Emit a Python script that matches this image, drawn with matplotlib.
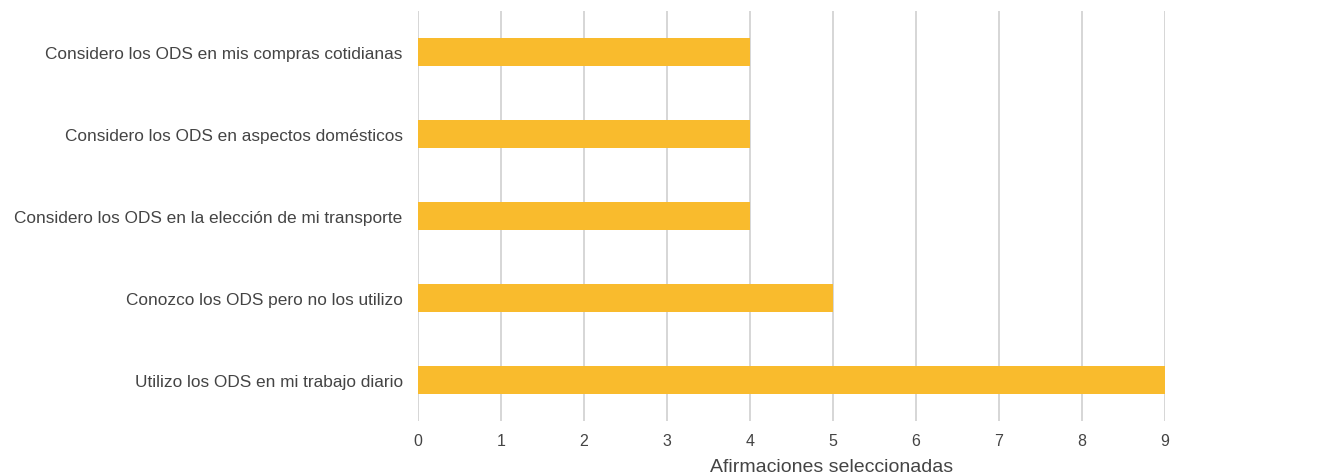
import matplotlib
matplotlib.use("Agg")
import matplotlib.pyplot as plt

categories = [
    "Utilizo los ODS en mi trabajo diario",
    "Conozco los ODS pero no los utilizo",
    "Considero los ODS en la elección de mi transporte",
    "Considero los ODS en aspectos domésticos",
    "Considero los ODS en mis compras cotidianas",
]
values = [9, 5, 4, 4, 4]
xticks = list(range(0, 10))
xlabel = "Afirmaciones seleccionadas"

plt.rcParams['font.family'] = ['Liberation Sans', 'DejaVu Sans']
text_color = "#444444"

fig = plt.figure(figsize=(13.22, 4.77), dpi=100)
ax = fig.add_axes([418/1322, 1-422/477, (1165-418)/1322, (422-12)/477])

ypos = list(range(len(categories)))
ax.barh(ypos, values, height=0.35, color="#F9BB2D", zorder=3)
ax.set_yticks(ypos)
ax.set_yticklabels(categories, fontsize=12.4, color=text_color)
ax.set_xticks(xticks)
ax.set_xticklabels([str(t) for t in xticks], fontsize=11.5, color=text_color)
ax.set_xlim(0, 9)
ax.set_ylim(-0.5, len(categories) - 0.5)
ax.grid(axis='x', color="#d0d0d0", linewidth=1.2, zorder=0)
ax.set_axisbelow(True)
for s in ax.spines.values():
    s.set_visible(False)
ax.tick_params(axis='both', length=0)
ax.tick_params(axis='y', pad=11)
ax.tick_params(axis='x', pad=9)
ax.set_xlabel(xlabel, fontsize=14, color=text_color, labelpad=5)
ax.xaxis.set_label_coords((832-418)/(1165-418), -0.09)
ax.xaxis.label.set_verticalalignment('top')

fig.savefig("out.png", dpi=100)
